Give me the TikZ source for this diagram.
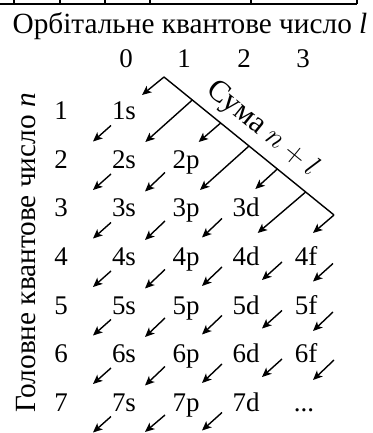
\documentclass[tikz,border=0pt]{standalone}
\usepackage{fontspec}
\setmainfont{Liberation Serif}
\usetikzlibrary{arrows.meta, calc}
\tikzset{
  every node/.style = {inner sep=0pt},
  title/.style      = {font=\fontsize{25}{29}\selectfont, anchor=base},
  idx/.style        = {font=\fontsize{23}{27}\selectfont, anchor=base},
  orb/.style        = {font=\fontsize{23}{27}\selectfont, anchor=base},
  arrow/.style      = {-{Stealth[length=8pt, width=7pt, inset=2pt]}, line width=1.2pt},
  frame/.style      = {line width=1.6pt}
}

\begin{document}
\begin{tikzpicture}[x=0.03cm, y=-0.03cm]
  \useasboundingbox (0,0) rectangle (372,433);
  % bottom edge of the table above
  \draw[frame] (0,4) -- (357,4);
  \draw[frame] (14,0) -- (14,4);
  \draw[frame] (60,0) -- (60,4);
  \draw[frame] (105,0) -- (105,4);
  \draw[frame] (150,0) -- (150,4);
  \draw[frame] (251,0) -- (251,4);
  \draw[frame] (357,0) -- (357,4);
  % axis titles
  \node[title] (ltitle) at (190,34) {Орбітальне квантове число \textit{l}};
  \node[title, rotate=90, anchor=center] (ntitle) at (26,253) {Головне квантове число \textit{n}};
  \node[idx] (l0) at (126,68) {0};
  \node[idx] (l1) at (184,68) {1};
  \node[idx] (l2) at (244,68) {2};
  \node[idx] (l3) at (303,68) {3};
  \node[idx] (n1) at (61,120) {1};
  \node[idx] (n2) at (61,168.5) {2};
  \node[idx] (n3) at (61,217) {3};
  \node[idx] (n4) at (61,265.5) {4};
  \node[idx] (n5) at (61,314) {5};
  \node[idx] (n6) at (61,362.5) {6};
  \node[idx] (n7) at (61,411) {7};
  % orbitals
  \node[orb] (1s) at (124,120) {1s};
  \node[orb] (2s) at (124,168.5) {2s};
  \node[orb] (2p) at (186,168.5) {2p};
  \node[orb] (3s) at (124,217) {3s};
  \node[orb] (3p) at (186,217) {3p};
  \node[orb] (3d) at (246,217) {3d};
  \node[orb] (4s) at (124,265.5) {4s};
  \node[orb] (4p) at (186,265.5) {4p};
  \node[orb] (4d) at (246,265.5) {4d};
  \node[orb] (4f) at (306,265.5) {4f};
  \node[orb] (5s) at (124,314) {5s};
  \node[orb] (5p) at (186,314) {5p};
  \node[orb] (5d) at (246,314) {5d};
  \node[orb] (5f) at (306,314) {5f};
  \node[orb] (6s) at (124,362.5) {6s};
  \node[orb] (6p) at (186,362.5) {6p};
  \node[orb] (6d) at (246,362.5) {6d};
  \node[orb] (6f) at (306,362.5) {6f};
  \node[orb] (7s) at (124,411) {7s};
  \node[orb] (7p) at (186,411) {7p};
  \node[orb] (7d) at (246,411) {7d};
  \node[orb] (more) at (304,411) {...};
  % the n+l line and its ticks
  \coordinate (sumtop) at (164,77);
  \coordinate (sumend) at (334,215);
  \coordinate (t1) at ($(sumtop)!1/6!(sumend)$);
  \coordinate (t2) at ($(sumtop)!2/6!(sumend)$);
  \coordinate (t3) at ($(sumtop)!3/6!(sumend)$);
  \coordinate (t4) at ($(sumtop)!4/6!(sumend)$);
  \coordinate (t5) at ($(sumtop)!5/6!(sumend)$);
  \draw[line width=1.2pt] (sumtop) -- (sumend)
    node[pos=0.5, sloped, above=6pt, font=\fontsize{26}{30}\selectfont] (sum) {Сума $n+l$};
  \draw[arrow] (sumtop) -- ++(-22,18);
  \draw[arrow] (t1) -- ++(-47,42);
  \draw[arrow] (t2) -- ++(-22,19);
  \draw[arrow] (t3) -- ++(-49,44);
  \draw[arrow] (t4) -- ++(-22,20);
  \draw[arrow] (t5) -- ++(-48,41);
  \draw[arrow] (sumend) -- ++(-21,18);
  % diagonals through the orbitals
  \draw[arrow] ([shift={(-13,5.5)}]1s.base) -- ++(-18,16);
  \draw[arrow] ([shift={(-13,5.5)}]2s.base) -- ++(-18,16);
  \draw[arrow] ([shift={(-13,5.5)}]3s.base) -- ++(-18,16);
  \draw[arrow] ([shift={(-13,5.5)}]4s.base) -- ++(-18,16);
  \draw[arrow] ([shift={(-13,5.5)}]5s.base) -- ++(-18,16);
  \draw[arrow] ([shift={(-13,5.5)}]6s.base) -- ++(-18,16);
  \draw[arrow] ([shift={(-13,5.5)}]7s.base) -- ++(-18,16);
  \draw[arrow] ([shift={(-21,4)}]2p.base) -- ++(-20,19);
  \draw[arrow] ([shift={(-21,4)}]3p.base) -- ++(-20,19);
  \draw[arrow] ([shift={(-21,4)}]4p.base) -- ++(-20,19);
  \draw[arrow] ([shift={(-21,4)}]5p.base) -- ++(-20,19);
  \draw[arrow] ([shift={(-21,4)}]6p.base) -- ++(-20,19);
  \draw[arrow] ([shift={(-21,4)}]7p.base) -- ++(-20,17);
  \draw[arrow] ([shift={(-24,1.5)}]3d.base) -- ++(-20,19);
  \draw[arrow] ([shift={(-24,1.5)}]4d.base) -- ++(-20,19);
  \draw[arrow] ([shift={(-24,1.5)}]5d.base) -- ++(-20,19);
  \draw[arrow] ([shift={(-24,1.5)}]6d.base) -- ++(-20,19);
  \draw[arrow] ([shift={(-24,1.5)}]7d.base) -- ++(-20,18);
  \draw[arrow] ([shift={(-24,-3.5)}]4f.base) -- ++(-20,18);
  \draw[arrow] ([shift={(-24,-3.5)}]5f.base) -- ++(-20,18);
  \draw[arrow] ([shift={(-24,-3.5)}]6f.base) -- ++(-20,18);
  \draw[arrow] ([shift={(27,-2)}]4f.base) -- ++(-20,18);
  \draw[arrow] ([shift={(27,-2)}]5f.base) -- ++(-20,19);
  \draw[arrow] ([shift={(28,-2.5)}]6f.base) -- ++(-21,20);
\end{tikzpicture}
\end{document}
